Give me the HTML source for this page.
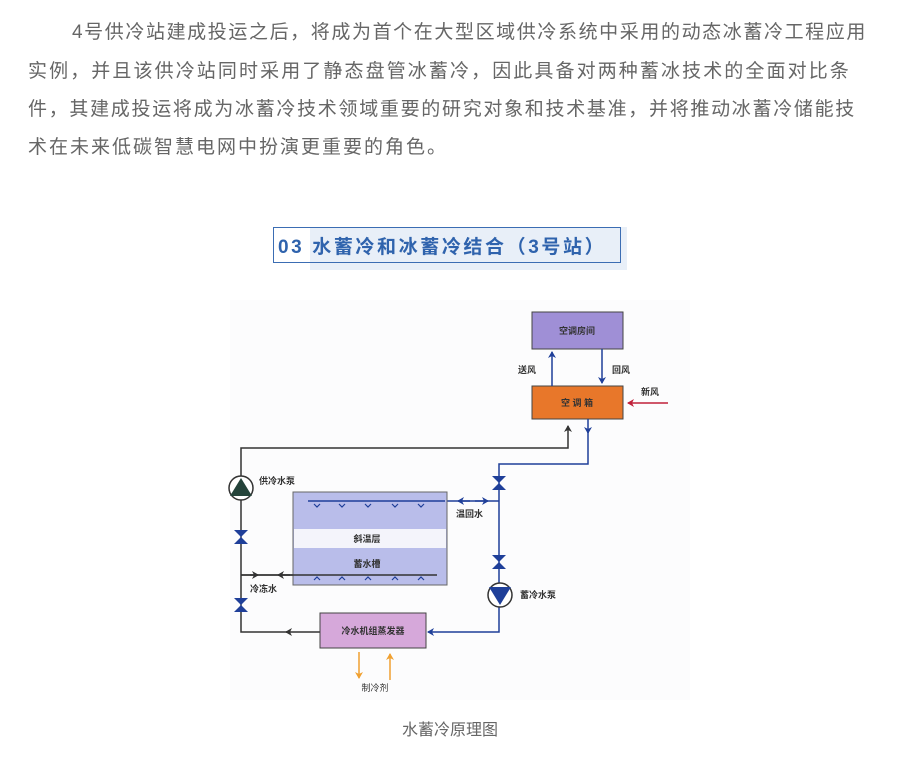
<!DOCTYPE html>
<html><head><meta charset="utf-8"><style>
body{margin:0;background:#fff;width:912px;height:757px;position:relative;overflow:hidden;font-family:"Liberation Sans","Noto Sans CJK SC",sans-serif}
.l{position:absolute;left:28px;font-size:19px;color:#666;white-space:nowrap;line-height:24px}
</style></head><body>
<div class="l" style="top:21px;left:72px;letter-spacing:1.6px">4号供冷站建成投运之后，将成为首个在大型区域供冷系统中采用的动态冰蓄冷工程应用</div>
<div class="l" style="top:60px;letter-spacing:2.1px">实例，并且该供冷站同时采用了静态盘管冰蓄冷，因此具备对两种蓄冰技术的全面对比条</div>
<div class="l" style="top:98px;letter-spacing:1.7px">件，其建成投运将成为冰蓄冷技术领域重要的研究对象和技术基准，并将推动冰蓄冷储能技</div>
<div class="l" style="top:136px;letter-spacing:2px">术在未来低碳智慧电网中扮演更重要的角色。</div>

<div style="position:absolute;left:310px;top:227px;width:317px;height:43px;background:#e8eff8"></div>
<div style="position:absolute;left:273px;top:227px;width:346px;height:34px;border:1px solid #3b6db3"></div>
<div style="position:absolute;left:278px;top:232px;font-size:19px;font-weight:bold;color:#2f63ad;white-space:nowrap;letter-spacing:2.6px">03 水蓄冷和冰蓄冷结合（3号站）</div>

<svg style="position:absolute;left:0;top:0" width="912" height="757" font-family="Liberation Sans, Noto Sans CJK SC, sans-serif" font-size="9" font-weight="bold" fill="#333">
<defs>
<marker id="ab" markerWidth="8" markerHeight="8" refX="6" refY="4" orient="auto" markerUnits="userSpaceOnUse"><path d="M0,0 L7,4 L0,8 L2,4z" fill="#1f3f99"/></marker>
<marker id="ak" markerWidth="8" markerHeight="8" refX="6" refY="4" orient="auto" markerUnits="userSpaceOnUse"><path d="M0,0 L7,4 L0,8 L2,4z" fill="#333"/></marker>
<marker id="ar" markerWidth="8" markerHeight="8" refX="6" refY="4" orient="auto" markerUnits="userSpaceOnUse"><path d="M0,0 L7,4 L0,8 L2,4z" fill="#c0203a"/></marker>
<marker id="ao" markerWidth="8" markerHeight="8" refX="6" refY="4" orient="auto" markerUnits="userSpaceOnUse"><path d="M0,0 L7,4 L0,8 L2,4z" fill="#f0a030"/></marker>
</defs>
<rect x="230" y="300" width="460" height="400" fill="#fcfcfd"/>
<rect x="532" y="312" width="91" height="37" fill="#9f8fd6" stroke="#444"/>
<text x="577" y="334" text-anchor="middle">空调房间</text>
<rect x="532" y="386" width="91" height="33" fill="#e8772a" stroke="#444"/>
<text x="577" y="406" text-anchor="middle">空 调 箱</text>
<g stroke="#1f3f99" stroke-width="1.5" fill="none">
<line x1="552" y1="386" x2="552" y2="352" marker-end="url(#ab)"/>
<line x1="602" y1="349" x2="602" y2="383" marker-end="url(#ab)"/>
<line x1="588" y1="419" x2="588" y2="433" marker-end="url(#ab)"/>
<polyline points="588,430 588,464 499,464 499,632 428,632" marker-end="url(#ab)"/>
<line x1="308" y1="501" x2="499" y2="501"/>
<line x1="470" y1="501" x2="458" y2="501" marker-end="url(#ab)"/>
<line x1="475" y1="501" x2="488" y2="501" marker-end="url(#ab)"/>
</g>
<line x1="668" y1="403" x2="628" y2="403" stroke="#c0203a" stroke-width="1.5" marker-end="url(#ar)"/>
<g stroke="#333" stroke-width="1.5" fill="none">
<polyline points="320,632 241,632 241,448 568,448 568,426" marker-end="url(#ak)"/>
<line x1="290" y1="632" x2="286" y2="632" marker-end="url(#ak)"/>
<line x1="241" y1="575" x2="437" y2="575"/>
<line x1="250" y1="575" x2="258" y2="575" marker-end="url(#ak)"/>
<line x1="290" y1="575" x2="278" y2="575" marker-end="url(#ak)"/>
</g>
<rect x="293" y="492" width="154" height="93" fill="#b9bdea" stroke="#666"/>
<rect x="294" y="529" width="152" height="19" fill="#f4f4fb"/>
<line x1="308" y1="501" x2="445" y2="501" stroke="#1f3f99" stroke-width="1.5"/>
<line x1="241" y1="575" x2="437" y2="575" stroke="#333" stroke-width="1.5"/>
<g stroke="#1f3f99" stroke-width="1.2" fill="none">
<path d="M314,504 l3,3 l3,-3 M339,504 l3,3 l3,-3 M365,504 l3,3 l3,-3 M392,504 l3,3 l3,-3 M418,504 l3,3 l3,-3"/>
<path d="M314,580 l3,-3 l3,3 M339,580 l3,-3 l3,3 M365,580 l3,-3 l3,3 M392,580 l3,-3 l3,3 M418,580 l3,-3 l3,3"/>
</g>
<text x="367" y="542" text-anchor="middle">斜温层</text>
<text x="367" y="567" text-anchor="middle">蓄水槽</text>
<text x="456" y="517">温回水</text>
<text x="250" y="592">冷冻水</text>
<text x="259" y="484">供冷水泵</text>
<text x="520" y="598">蓄冷水泵</text>
<text x="518" y="373">送风</text>
<text x="612" y="373">回风</text>
<text x="641" y="395">新风</text>
<circle cx="241" cy="488" r="12" fill="#fff" stroke="#333" stroke-width="1.5"/>
<path d="M230,496 L241,478 L252,496z" fill="#24433a"/>
<circle cx="500" cy="595" r="12" fill="#fff" stroke="#333" stroke-width="1.5"/>
<path d="M489,587 L511,587 L500,605z" fill="#1f3f99"/>
<g fill="#1f3f99">
<path d="M234,530 L248,530 L234,544 L248,544z"/>
<path d="M234,598 L248,598 L234,612 L248,612z"/>
<path d="M492,476 L506,476 L492,490 L506,490z"/>
<path d="M492,555 L506,555 L492,569 L506,569z"/>
</g>
<rect x="320" y="613" width="106" height="35" fill="#d6a8da" stroke="#444"/>
<text x="373" y="634" text-anchor="middle">冷水机组蒸发器</text>
<line x1="359" y1="652" x2="359" y2="678" stroke="#f0a030" stroke-width="1.5" marker-end="url(#ao)"/>
<line x1="390" y1="680" x2="390" y2="654" stroke="#f0a030" stroke-width="1.5" marker-end="url(#ao)"/>
<text x="375" y="691" text-anchor="middle" font-weight="normal">制冷剂</text>
</svg>
<div style="position:absolute;left:0;width:900px;top:716px;text-align:center;font-size:16px;color:#666">水蓄冷原理图</div>
</body></html>
